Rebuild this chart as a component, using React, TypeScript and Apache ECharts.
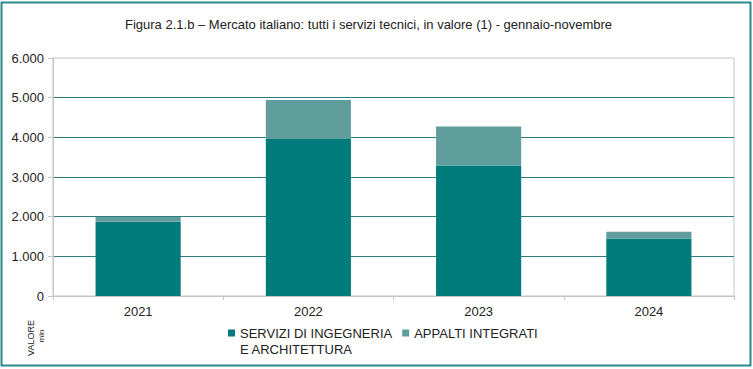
import React, { useEffect, useRef } from "react";
import * as echarts from "echarts";

const categories = ["2021", "2022", "2023", "2024"];
const serviziValues = [1870, 3960, 3290, 1450];
const appaltiValues = [120, 980, 980, 170];
const yTicks = [0, 1000, 2000, 3000, 4000, 5000, 6000];
const SERVIZI = "SERVIZI DI INGEGNERIA\nE ARCHITETTURA";
const APPALTI = "APPALTI INTEGRATI";

const FONT = "'Liberation Sans', Arial, sans-serif";

export default function App() {
  const ref = useRef<HTMLDivElement>(null);
  useEffect(() => {
    if (!ref.current) return;
    const chart = echarts.init(ref.current, null, { renderer: "svg" });
    chart.setOption({
      animation: false,
      backgroundColor: "#ffffff",
      title: {
        text: "Figura 2.1.b – Mercato italiano: tutti i servizi tecnici, in valore (1) - gennaio-novembre",
        left: 120,
        top: 13,
        textStyle: { fontFamily: FONT, fontSize: 13, fontWeight: "normal", color: "#222" },
      },
      grid: {
        left: 53,
        right: 19,
        top: 58,
        bottom: 73,
        show: true,
        borderColor: "#c4c4c4",
        borderWidth: 1,
      },
      legend: {
        left: 228,
        top: 309,
        padding: 0,
        icon: "rect",
        itemWidth: 7,
        itemHeight: 7,
        itemGap: 10,
        textStyle: { fontFamily: FONT, fontSize: 13, color: "#222", lineHeight: 16 },
        formatter: (name: string) => (name === SERVIZI ? " \n" + name : name),
        data: [SERVIZI, APPALTI],
      },
      xAxis: {
        type: "category",
        data: categories,
        axisLine: { lineStyle: { color: "#c4c4c4" } },
        axisTick: { show: true, length: 4, lineStyle: { color: "#c4c4c4" } },
        axisLabel: { fontFamily: FONT, fontSize: 13, color: "#222", margin: 9 },
      },
      yAxis: {
        type: "value",
        min: 0,
        max: 6000,
        interval: 1000,
        axisLine: { show: true, lineStyle: { color: "#c4c4c4" } },
        axisTick: { show: true, length: 5, lineStyle: { color: "#c4c4c4" } },
        axisLabel: {
          fontFamily: FONT,
          fontSize: 13,
          color: "#222",
          margin: 9,
          formatter: (v: number) => (yTicks.includes(v) ? v.toLocaleString("de-DE") : ""),
        },
        splitLine: { show: true, showMinLine: false, showMaxLine: false, lineStyle: { color: "#2d7d7d", width: 1 } },
      },
      series: [
        {
          name: SERVIZI,
          type: "bar",
          stack: "tot",
          data: serviziValues,
          barWidth: "50%",
          itemStyle: { color: "#007b7b" },
        },
        {
          name: APPALTI,
          type: "bar",
          stack: "tot",
          data: appaltiValues,
          barWidth: "50%",
          itemStyle: { color: "#5f9e9d" },
        },
      ],
      graphic: [
        {
          type: "rect",
          shape: { x: 1.5, y: 2.5, width: 749, height: 363 },
          style: { fill: "none", stroke: "#2a8a88", lineWidth: 2 },
          silent: true,
        },
        {
          type: "text",
          x: 31,
          y: 338,
          rotation: Math.PI / 2,
          style: {
            text: "VALORE",
            fontFamily: FONT,
            fontSize: 9,
            fill: "#222",
            align: "center",
            verticalAlign: "middle",
          },
        },
        {
          type: "text",
          x: 41,
          y: 336,
          rotation: Math.PI / 2,
          style: {
            text: "mln",
            fontFamily: FONT,
            fontSize: 8,
            fill: "#222",
            align: "center",
            verticalAlign: "middle",
          },
        },
      ],
    });
    return () => chart.dispose();
  }, []);
  return (
    <div
      ref={ref}
      style={{ position: "fixed", left: 0, top: 0, width: 753, height: 369 }}
    />
  );
}
